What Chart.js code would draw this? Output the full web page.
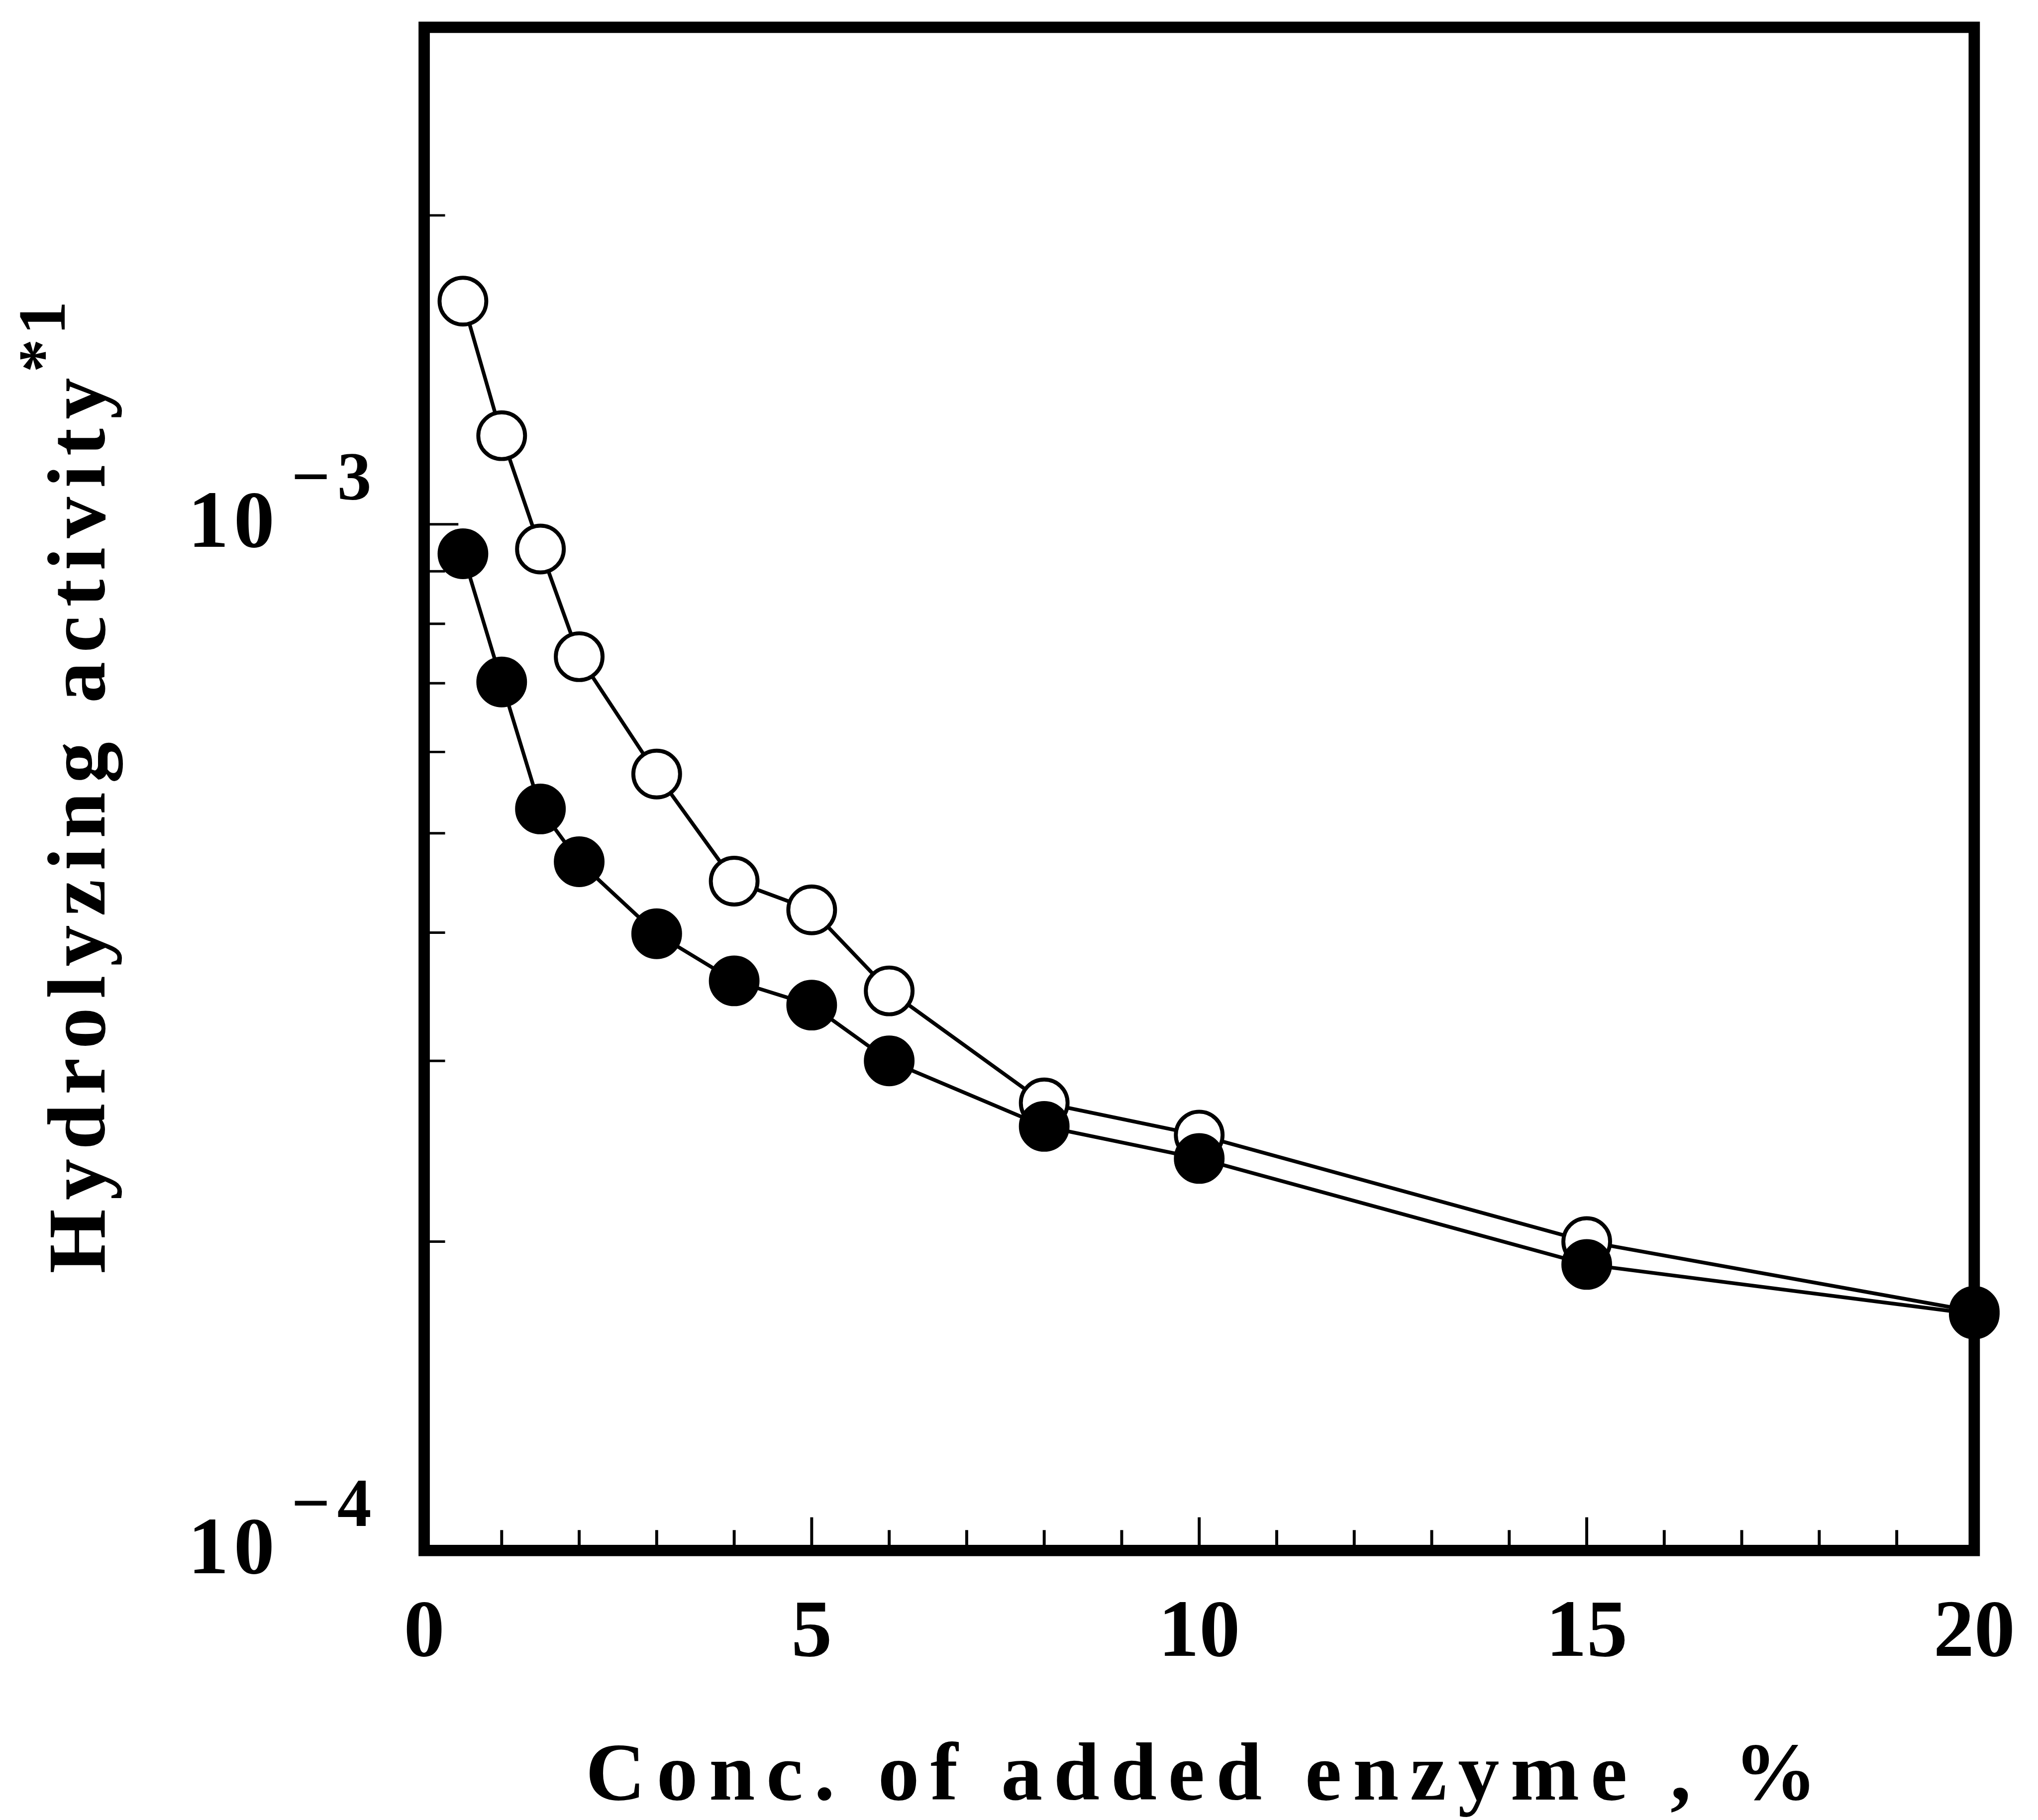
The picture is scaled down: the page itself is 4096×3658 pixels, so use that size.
<!DOCTYPE html>
<html>
<head>
<meta charset="utf-8">
<script src="https://cdn.jsdelivr.net/npm/chart.js@4.4.1/dist/chart.umd.min.js"></script>
<style>
  html, body { margin: 0; padding: 0; background: #fff; }
  canvas { display: block; }
</style>
</head>
<body>
<canvas id="chart" width="4096" height="3658"></canvas>
<script>
const S = 0.989; // everything is measured on the reference, then scaled
const FONT = '"Liberation Serif", "Times New Roman", serif';

// data
const concentrations = [0.5, 1, 1.5, 2, 3, 4, 5, 6, 8, 10, 15, 20];
const activityOpen   = [1.65e-3, 1.22e-3, 9.46e-4, 7.43e-4, 5.71e-4, 4.49e-4, 4.21e-4, 3.51e-4, 2.73e-4, 2.54e-4, 2.00e-4, 1.71e-4];
const activityFilled = [9.36e-4, 7.02e-4, 5.28e-4, 4.69e-4, 3.99e-4, 3.59e-4, 3.40e-4, 3.00e-4, 2.59e-4, 2.41e-4, 1.90e-4, 1.70e-4];

// axes
const xRange = [0, 20];
const yRange = [1e-4, 3.05e-3];
const xMajorTicks = [5, 10, 15];
const xMinorTicks = [1, 2, 3, 4, 6, 7, 8, 9, 11, 12, 13, 14, 16, 17, 18, 19];
const xTickLabels = [0, 5, 10, 15, 20];
const yMajorTicks = [1e-3];
const yMinorTicks = [2e-4, 3e-4, 4e-4, 5e-4, 6e-4, 7e-4, 8e-4, 9e-4, 2e-3];
const yTickValues = [1e-4, 1e-3];
const yTickExponents = ['\u22124', '\u22123'];
const xTitle = 'Conc. of added enzyme , %';
const yTitle = 'Hydrolyzing activity';
const yTitleSup = '*1';

function toPoints(ys) {
    return concentrations.map((c, i) => ({ x: c, y: ys[i] }));
}

function charsWidth(ctx, text) {
    let w = 0;
    for (const ch of text) w += ctx.measureText(ch).width;
    return w;
}

// draws text char by char so the wide typewriter spacing can be matched
function spacedText(ctx, text, x, y, spacing) {
    for (const ch of text) {
        ctx.fillText(ch, x, y);
        x += ctx.measureText(ch).width + spacing;
    }
}

const framePlugin = {
    id: 'frame',
    beforeDatasetsDraw(chart) {
        const { ctx, chartArea: a, scales: { x, y } } = chart;
        const frameW = 23 * S;
        ctx.save();
        ctx.strokeStyle = '#000';
        ctx.lineJoin = 'miter';
        ctx.lineWidth = frameW;
        ctx.strokeRect(a.left, a.top, a.right - a.left, a.bottom - a.top);

        // inward ticks
        ctx.lineWidth = 6 * S;
        ctx.lineCap = 'butt';
        const xIn = a.bottom - frameW / 2;
        const drawX = (v, len) => {
            const px = x.getPixelForValue(v);
            ctx.beginPath();
            ctx.moveTo(px, xIn + 1);
            ctx.lineTo(px, xIn - len * S);
            ctx.stroke();
        };
        xMajorTicks.forEach(v => drawX(v, 56));
        xMinorTicks.forEach(v => drawX(v, 30));

        ctx.lineWidth = 5 * S;
        const yIn = a.left + frameW / 2;
        const drawY = (v, len) => {
            const py = y.getPixelForValue(v);
            ctx.beginPath();
            ctx.moveTo(yIn - 1, py);
            ctx.lineTo(yIn + len * S, py);
            ctx.stroke();
        };
        yMajorTicks.forEach(v => drawY(v, 58));
        yMinorTicks.forEach(v => drawY(v, 31));
        ctx.restore();
    },
    afterDraw(chart) {
        const { ctx, chartArea: a, scales: { x, y } } = chart;
        ctx.save();
        ctx.fillStyle = '#000';
        ctx.textBaseline = 'alphabetic';

        // x tick labels
        ctx.font = `bold ${166 * S}px ${FONT}`;
        ctx.textAlign = 'center';
        xTickLabels.forEach(v => {
            ctx.fillText(String(v), x.getPixelForValue(v), a.bottom + 214 * S);
        });

        // y tick labels: 10 with a raised exponent
        ctx.textAlign = 'left';
        yTickValues.forEach((v, i) => {
            const py = y.getPixelForValue(v);
            ctx.font = `bold ${166 * S}px ${FONT}`;
            spacedText(ctx, '10', 382 * S, py + 46 * S, 10 * S);
            ctx.font = `bold ${139 * S}px ${FONT}`;
            spacedText(ctx, yTickExponents[i], 592 * S, py - 50 * S, 14 * S);
        });

        // x title, spread to the reference width
        ctx.font = `bold ${168 * S}px ${FONT}`;
        const xLen = (3696 - 1194) * S;
        const xChars = [...xTitle];
        const xGap = (xLen - charsWidth(ctx, xTitle)) / (xChars.length - 1);
        spacedText(ctx, xTitle, 1190 * S, 3657 * S, xGap);

        // y title, rotated, with superscript *1
        ctx.translate(212 * S, 2588 * S);
        ctx.rotate(-Math.PI / 2);
        const yLen = (2588 - 768) * S;
        const yChars = [...yTitle];
        const yGap = (yLen - charsWidth(ctx, yTitle)) / (yChars.length - 1);
        spacedText(ctx, yTitle, 0, 0, yGap);
        ctx.font = `bold ${137 * S}px ${FONT}`;
        spacedText(ctx, yTitleSup, (2588 - 757) * S, -81 * S, 8 * S);
        ctx.restore();
    }
};

const ctx = document.getElementById('chart').getContext('2d');
const chart = new Chart(ctx, {
    type: 'line',
    data: {
        datasets: [
            {
                label: 'filled',
                data: toPoints(activityFilled),
                borderColor: '#000',
                borderWidth: 7.5 * S,
                tension: 0,
                pointRadius: 50 * S,
                pointHoverRadius: 50 * S,
                pointBorderWidth: 3 * S,
                pointBackgroundColor: '#000',
                pointBorderColor: '#000',
                clip: false
            },
            {
                label: 'open',
                data: toPoints(activityOpen),
                borderColor: '#000',
                borderWidth: 7.5 * S,
                tension: 0,
                pointRadius: 47.5 * S,
                pointHoverRadius: 47.5 * S,
                pointBorderWidth: 8 * S,
                pointBackgroundColor: '#fff',
                pointBorderColor: '#000',
                clip: false
            }
        ]
    },
    options: {
        responsive: false,
        animation: false,
        devicePixelRatio: 1,
        events: [],
        layout: {
            padding: {
                left: 862 * S,
                top: 38 * S,
                right: 4096 - 4012 * S,
                bottom: 3658 - 3151 * S
            }
        },
        scales: {
            x: { type: 'linear', min: xRange[0], max: xRange[1], display: false },
            y: { type: 'logarithmic', min: yRange[0], max: yRange[1], bounds: 'data', display: false }
        },
        plugins: {
            legend: { display: false },
            tooltip: { enabled: false }
        }
    },
    plugins: [framePlugin]
});
</script>
</body>
</html>
